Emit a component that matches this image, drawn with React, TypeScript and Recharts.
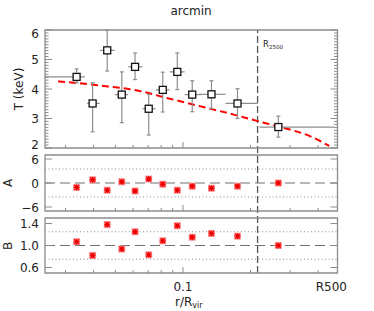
import React from "react";
import {
  ComposedChart,
  Scatter,
  Line,
  XAxis,
  YAxis,
  ErrorBar,
  ReferenceLine,
  ReferenceArea,
} from "recharts";

const W = 374;
const H = 311;
const FONT = "'DejaVu Sans', sans-serif";
const INK = "#222";
const FRAME = "#8c8c8c";
const ERR = "#8e8e8e";

// radial bins in r / R_vir: centre, inner edge, outer edge
const rMid = [0.0336, 0.0396, 0.046, 0.0534, 0.0612, 0.0704, 0.0813, 0.0944, 0.110, 0.134, 0.175, 0.266];
const rIn = [0.0243, 0.0374, 0.0426, 0.0497, 0.057, 0.066, 0.0756, 0.0873, 0.1018, 0.1178, 0.1548, 0.2192];
const rOut = [0.0366, 0.0426, 0.0497, 0.057, 0.066, 0.0756, 0.0873, 0.1018, 0.1207, 0.1548, 0.2154, 0.4724];

// temperature (keV) with lower / upper bound
const tVal = [4.41, 3.51, 5.31, 3.81, 4.75, 3.33, 3.97, 4.58, 3.81, 3.82, 3.51, 2.71];
const tLow = [4.21, 2.55, 4.61, 2.86, 4.32, 2.44, 3.22, 3.98, 3.23, 3.34, 3.0, 2.37];
const tHigh = [4.68, 4.21, 6.0, 4.58, 5.22, 3.82, 4.57, 5.22, 4.28, 4.28, 4.01, 3.08];

// lower panels
const aVal = [-1.1, 0.8, -1.8, 0.3, -2.0, 1.0, -0.3, -1.8, -0.8, -1.3, -0.8, 0.0];
const bVal = [1.07, 0.82, 1.38, 0.935, 1.25, 0.83, 1.085, 1.36, 1.15, 1.22, 1.17, 1.0];

// dashed model profile
const modelR = [0.0278, 0.0426, 0.0642, 0.0844, 0.1186, 0.1668, 0.2154, 0.2783, 0.3657, 0.4487];
const modelT = [4.26, 4.12, 3.93, 3.7, 3.42, 3.14, 2.91, 2.69, 2.41, 2.07];

const rTicks = [0.03, 0.04, 0.05, 0.06, 0.07, 0.08, 0.09, 0.1, 0.2, 0.3, 0.4];
const arcminTicks = [0.3, 0.4, 0.5, 0.6, 0.7, 0.8, 0.9, 1, 2, 3, 4];
const ARCMIN_PER_RVIR = 9.43;
const R2500 = 0.215;
const R500_LABEL_AT = 0.458;
const X_DOMAIN = [0.0243, 0.488];

const tMajor = [2, 3, 4, 5, 6];
const tDomain = [2, 6];
const tTicks = Array.from({ length: 41 }, (_, i) => 2 + i / 10);
const aMajor = [-6, 0, 6];
const aLabels = ["\u22126", "0", "6"];
const aDomain = [-7, 7];
const aGuides = [-3.5, 3.5];
const bMajor = [0.6, 1.0, 1.4];
const bLabels = ["0.6", "1.0", "1.4"];
const bDomain = [0.5, 1.5];
const bGuides = [0.75, 1.25];

const tRows = rMid.map((r, i) => ({
  r,
  t: tVal[i],
  rErr: [r - rIn[i], rOut[i] - r],
  tErr: [tVal[i] - tLow[i], tHigh[i] - tVal[i]],
}));
const aRows = rMid.map((r, i) => ({ r, v: aVal[i] }));
const bRows = rMid.map((r, i) => ({ r, v: bVal[i] }));
const modelRows = modelR.map((r, i) => ({ r, t: modelT[i] }));

const near = (a: number, b: number) => Math.abs(a - b) < 1e-6;
const txt = { fontFamily: FONT, fontSize: 12, fill: INK };

function yTick(side: "left" | "right", majors: number[], labels: string[], domain: number[]) {
  return (p: any) => {
    const v = p.payload.value;
    const i = majors.findIndex((m) => near(m, v));
    const len = i >= 0 ? 7 : 3.5;
    const dir = side === "left" ? 1 : -1;
    let dy = 4.5;
    if (near(v, domain[1])) dy += 3.5;
    if (near(v, domain[0])) dy -= 4;
    return (
      <g>
        <path d={`M${p.x},${p.y}h${dir * len}`} stroke={FRAME} strokeWidth={1} />
        {side === "left" && i >= 0 && (
          <text x={p.x - 6} y={p.y + dy} textAnchor="end" {...txt}>
            {labels[i]}
          </text>
        )}
      </g>
    );
  };
}

// r/Rvir ticks pointing into the plot; labels only on the last panel
function xTick(side: "bottom" | "top", withLabels: boolean) {
  return (p: any) => {
    const v = p.payload.value;
    const dir = side === "bottom" ? -1 : 1;
    if (near(v, R500_LABEL_AT)) {
      return withLabels ? (
        <text x={p.x} y={p.y + 17.5} textAnchor="middle" {...txt}>
          R500
        </text>
      ) : (
        <g />
      );
    }
    const major = near(v, 0.1);
    return (
      <g>
        <path d={`M${p.x},${p.y}v${dir * (major ? 6 : 3)}`} stroke={FRAME} strokeWidth={1} />
        {withLabels && major && (
          <text x={p.x} y={p.y + 17.5} textAnchor="middle" {...txt}>
            0.1
          </text>
        )}
      </g>
    );
  };
}

const arcminTick = (p: any) => {
  const a = p.payload.value * ARCMIN_PER_RVIR;
  const one = near(a, 1);
  return (
    <g>
      <path d={`M${p.x},${p.y}v3`} stroke={FRAME} strokeWidth={1} />
      {one && (
        <text x={p.x} y={p.y - 5} textAnchor="middle" {...txt}>
          1
        </text>
      )}
    </g>
  );
};

const squareShape = (p: any) => (
  <rect x={p.cx - 3.5} y={p.cy - 3.5} width={7} height={7} fill="#fff" stroke="#111" strokeWidth={1.3} />
);

const starShape = (p: any) => {
  const { cx, cy } = p;
  return (
    <g>
      <rect x={cx - 3.5} y={cy - 3.5} width={7} height={7} fill="#f6a3a3" />
      <path
        d={`M${cx - 3} ${cy}H${cx + 3}M${cx} ${cy - 3}V${cy + 3}M${cx - 2.5} ${cy - 2.5}L${cx + 2.5} ${cy + 2.5}M${cx - 2.5} ${cy + 2.5}L${cx + 2.5} ${cy - 2.5}`}
        stroke="#ff1010"
        strokeWidth={1.4}
      />
      <rect x={cx - 1.5} y={cy - 1.5} width={3} height={3} fill="#e00000" />
    </g>
  );
};

const noShape = () => <g />;

const layer: React.CSSProperties = { position: "absolute", left: 0, top: 0 };
const plotRight = 35.5; // plus 1px right axis

// shared axis props: 1px axes so they render, lines drawn by the ticks / frame
const axisBase = {
  tickSize: 0,
  tickMargin: 0,
  tickLine: false,
  axisLine: false,
  interval: 0 as const,
  allowDataOverflow: true,
};

function Frame({ domain }: { domain: number[] }) {
  return (
    <ReferenceArea
      x1={X_DOMAIN[0]}
      x2={X_DOMAIN[1]}
      y1={domain[0]}
      y2={domain[1]}
      fill="none"
      stroke={FRAME}
      strokeWidth={1.3}
    />
  );
}

function ResidualPanel({
  rows,
  top,
  bottom,
  domain,
  majors,
  labels,
  guides,
  centre,
  withLabels,
}: {
  rows: { r: number; v: number }[];
  top: number;
  bottom: number;
  domain: number[];
  majors: number[];
  labels: string[];
  guides: number[];
  centre: number;
  withLabels: boolean;
}) {
  return (
    <div style={layer}>
      <ComposedChart width={W} height={H} margin={{ top: top - 1, right: plotRight, bottom: bottom - 1, left: 0 }}>
        <XAxis
          {...axisBase}
          dataKey="r"
          type="number"
          scale="log"
          domain={X_DOMAIN}
          ticks={withLabels ? [...rTicks, R500_LABEL_AT] : rTicks}
          height={1}
          tick={xTick("bottom", withLabels)}
        />
        <XAxis
          {...axisBase}
          xAxisId="top"
          orientation="top"
          type="number"
          scale="log"
          domain={X_DOMAIN}
          ticks={rTicks}
          height={1}
          tick={xTick("top", false)}
        />
        <YAxis
          {...axisBase}
          type="number"
          domain={domain}
          ticks={majors}
          width={45}
          tick={yTick("left", majors, labels, domain)}
        />
        <YAxis
          {...axisBase}
          yAxisId="right"
          orientation="right"
          type="number"
          domain={domain}
          ticks={majors}
          width={1}
          tick={yTick("right", majors, labels, domain)}
        />
        {guides.map((g) => (
          <ReferenceLine key={g} y={g} stroke="#8a8a8a" strokeWidth={1} strokeDasharray="1 2.5" />
        ))}
        <ReferenceLine y={centre} stroke="#707070" strokeWidth={1.1} strokeDasharray="10 5" />
        {Frame({ domain })}
        <Scatter data={rows} dataKey="v" shape={starShape} isAnimationActive={false} />
      </ComposedChart>
    </div>
  );
}

export default function App() {
  return (
    <div style={{ position: "absolute", left: 0, top: 0, width: W, height: H, background: "#fff" }}>
      {/* R2500 marker spanning all three panels */}
      <div style={layer}>
        <ComposedChart width={W} height={H} margin={{ top: 30, right: plotRight + 1, bottom: 38, left: 45 }}>
          <XAxis dataKey="r" type="number" scale="log" domain={X_DOMAIN} allowDataOverflow hide />
          <YAxis type="number" domain={aDomain} allowDataOverflow width={0} hide />
          <Scatter data={aRows} dataKey="v" shape={noShape} legendType="none" isAnimationActive={false} />
          <ReferenceLine x={R2500} stroke="#555" strokeWidth={1.3} strokeDasharray="7 3" />
        </ComposedChart>
      </div>

      <div style={layer}>
        <ComposedChart width={W} height={H} margin={{ top: 29, right: plotRight, bottom: 162, left: 0 }}>
          <XAxis
            {...axisBase}
            dataKey="r"
            type="number"
            scale="log"
            domain={X_DOMAIN}
            ticks={rTicks}
            height={1}
            tick={xTick("bottom", false)}
          />
          <XAxis
            {...axisBase}
            xAxisId="top"
            orientation="top"
            type="number"
            scale="log"
            domain={X_DOMAIN}
            ticks={arcminTicks.map((a) => a / ARCMIN_PER_RVIR)}
            height={1}
            tick={arcminTick}
          />
          <YAxis
            {...axisBase}
            type="number"
            domain={tDomain}
            ticks={tTicks}
            width={45}
            tick={yTick("left", tMajor, tMajor.map(String), tDomain)}
          />
          <YAxis
            {...axisBase}
            yAxisId="right"
            orientation="right"
            type="number"
            domain={tDomain}
            ticks={tTicks}
            width={1}
            tick={yTick("right", tMajor, [], tDomain)}
          />
          {Frame({ domain: tDomain })}
          <Line
            data={modelRows}
            dataKey="t"
            type="monotone"
            dot={false}
            stroke="#ff0000"
            strokeWidth={2}
            strokeDasharray="7 4"
            isAnimationActive={false}
          />
          <Scatter data={tRows} dataKey="t" shape={squareShape} isAnimationActive={false}>
            <ErrorBar dataKey="rErr" direction="x" width={0} stroke={ERR} strokeWidth={1.2} />
            <ErrorBar dataKey="tErr" direction="y" width={2} stroke={ERR} strokeWidth={1.2} />
          </Scatter>
        </ComposedChart>
      </div>

      <ResidualPanel
        rows={aRows}
        top={155}
        bottom={100}
        domain={aDomain}
        majors={aMajor}
        labels={aLabels}
        guides={aGuides}
        centre={0}
        withLabels={false}
      />
      <ResidualPanel
        rows={bRows}
        top={218}
        bottom={38}
        domain={bDomain}
        majors={bMajor}
        labels={bLabels}
        guides={bGuides}
        centre={1}
        withLabels
      />

      <svg width={W} height={H} style={{ ...layer, pointerEvents: "none" }}>
        <text x={191} y={14.5} textAnchor="middle" {...txt}>
          arcmin
        </text>
        <text transform="translate(19,89) rotate(-90)" textAnchor="middle" dy="0.35em" {...txt}>
          T (keV)
        </text>
        <text transform="translate(8,183) rotate(-90)" textAnchor="middle" dy="0.35em" {...txt}>
          A
        </text>
        <text transform="translate(8,246) rotate(-90)" textAnchor="middle" dy="0.35em" {...txt}>
          B
        </text>
        <text x={175} y={305.5} {...txt}>
          r/R
          <tspan fontSize={8} dy={2.5}>
            vir
          </tspan>
        </text>
        <text x={263} y={47} fontFamily={FONT} fontSize={8.5} fill={INK}>
          R
          <tspan fontSize={5.5} dy={1.8}>
            2500
          </tspan>
        </text>
      </svg>
    </div>
  );
}
